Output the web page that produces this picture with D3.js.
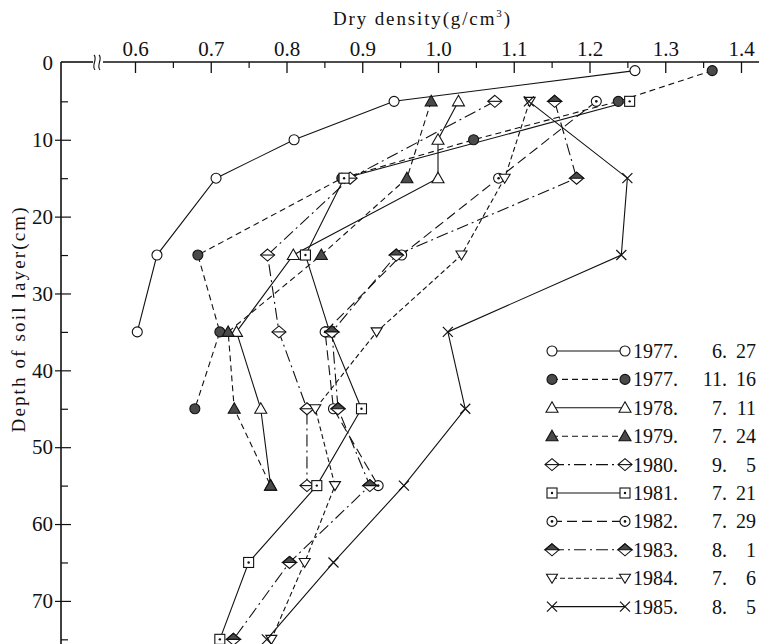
<!DOCTYPE html>
<html>
<head>
<meta charset="utf-8">
<script src="https://cdn.jsdelivr.net/npm/d3@7"></script>
<style>
  html, body { margin: 0; padding: 0; background: #fff; }
  svg { display: block; }
  svg text { font-family: "Liberation Serif", "Times New Roman", serif !important; fill: #111; }
</style>
</head>
<body>
<svg id="chart" width="759" height="644"></svg>
<script>
// ---------------- DATA ----------------
const xMajorTicks = [0.6, 0.7, 0.8, 0.9, 1.0, 1.1, 1.2, 1.3, 1.4];
const xMinorTicks = [0.65, 0.75, 0.85, 0.95, 1.05, 1.15, 1.25, 1.35];
const yMajorTicks = [0, 10, 20, 30, 40, 50, 60, 70];
const yMinorTicks = [5, 15, 25, 35, 45, 55, 65, 75];

const legendYear  = ["1977.", "1977.", "1978.", "1979.", "1980.", "1981.", "1982.", "1983.", "1984.", "1985."];
const legendMonth = ["6.", "11.", "7.", "7.", "9.", "7.", "7.", "8.", "7.", "8."];
const legendDay   = ["27", "16", "11", "24", "5", "21", "29", "1", "6", "5"];

const depth_1977_06_27 = [1, 5, 10, 15, 25, 35];
const dens_1977_06_27  = [1.26, 0.942, 0.81, 0.707, 0.629, 0.603];
const depth_1977_11_16 = [1, 5, 10, 15, 25, 35, 45];
const dens_1977_11_16  = [1.362, 1.238, 1.047, 0.873, 0.683, 0.712, 0.679];
const depth_1978_07_11 = [5, 10, 15, 25, 35, 45, 55];
const dens_1978_07_11  = [1.027, 1.0, 1.0, 0.809, 0.734, 0.766, 0.779];
const depth_1979_07_24 = [5, 15, 25, 35, 45, 55];
const dens_1979_07_24  = [0.991, 0.959, 0.846, 0.723, 0.731, 0.779];
const depth_1980_09_05 = [5, 15, 25, 35, 45, 55];
const dens_1980_09_05  = [1.075, 0.884, 0.775, 0.79, 0.827, 0.827];
const depth_1981_07_21 = [5, 15, 25, 35, 45, 55, 65, 75];
const dens_1981_07_21  = [1.253, 0.876, 0.825, 0.857, 0.899, 0.84, 0.75, 0.712];
const depth_1982_07_29 = [5, 15, 25, 35, 45, 55];
const dens_1982_07_29  = [1.209, 1.08, 0.952, 0.851, 0.862, 0.921];
const depth_1983_08_01 = [5, 15, 25, 35, 45, 55, 65, 75];
const dens_1983_08_01  = [1.154, 1.183, 0.945, 0.86, 0.868, 0.91, 0.804, 0.73];
const depth_1984_07_06 = [5, 15, 25, 35, 45, 55, 65, 75];
const dens_1984_07_06  = [1.121, 1.088, 1.031, 0.919, 0.838, 0.864, 0.824, 0.78];
const depth_1985_08_05 = [5, 15, 25, 35, 45, 55, 65, 75];
const dens_1985_08_05  = [1.12, 1.25, 1.242, 1.013, 1.036, 0.955, 0.862, 0.774];

// ---------------- SETUP ----------------
const series = [
  {depth: depth_1977_06_27, dens: dens_1977_06_27, marker: "circle",     dash: null},
  {depth: depth_1977_11_16, dens: dens_1977_11_16, marker: "fcircle",    dash: "6,4"},
  {depth: depth_1978_07_11, dens: dens_1978_07_11, marker: "triangle",   dash: null},
  {depth: depth_1979_07_24, dens: dens_1979_07_24, marker: "ftriangle",  dash: "6,4"},
  {depth: depth_1980_09_05, dens: dens_1980_09_05, marker: "diamond",    dash: "12,4,2,4"},
  {depth: depth_1981_07_21, dens: dens_1981_07_21, marker: "dsquare",    dash: null},
  {depth: depth_1982_07_29, dens: dens_1982_07_29, marker: "dcircle",    dash: "10,5"},
  {depth: depth_1983_08_01, dens: dens_1983_08_01, marker: "hdiamond",   dash: "12,4,2,4"},
  {depth: depth_1984_07_06, dens: dens_1984_07_06, marker: "dtriangle",  dash: "5,3"},
  {depth: depth_1985_08_05, dens: dens_1985_08_05, marker: "cross",      dash: null}
];

const FONT = "'Liberation Serif', 'Times New Roman', serif";
const svg = d3.select("#chart");
svg.append("rect").attr("width", 759).attr("height", 644).attr("fill", "#fff");

const x = d3.scaleLinear().domain([0.6, 1.4]).range([135, 741]);
const y = d3.scaleLinear().domain([0, 70]).range([62.9, 600.9]);
const axisX0 = 61, axisY0 = 62;
const FILL = "#4a4a4a";

// ---------------- AXES ----------------
const gx = svg.append("g").attr("transform", `translate(0,${axisY0})`);
gx.call(d3.axisTop(x).tickValues(xMajorTicks).tickSize(-11).tickPadding(6)
        .tickFormat(d3.format(".1f")));
gx.attr("font-family", FONT);
gx.select(".domain").remove();
gx.selectAll(".tick line").attr("stroke", "#111").attr("stroke-width", 1.3);
gx.selectAll(".tick text").attr("font-size", 21).style("font-family", FONT).attr("fill", "#111");

const gxm = svg.append("g").attr("transform", `translate(0,${axisY0})`);
gxm.call(d3.axisTop(x).tickValues(xMinorTicks).tickSize(-6).tickFormat(""));
gxm.select(".domain").remove();
gxm.selectAll(".tick line").attr("stroke", "#111").attr("stroke-width", 1.2);

// top axis line with break
svg.append("line").attr("x1", axisX0).attr("x2", 93).attr("y1", axisY0).attr("y2", axisY0)
  .attr("stroke", "#111").attr("stroke-width", 1.6);
svg.append("line").attr("x1", 103).attr("x2", 759).attr("y1", axisY0).attr("y2", axisY0)
  .attr("stroke", "#111").attr("stroke-width", 1.6);
[94, 99].forEach(bx => {
  svg.append("path")
    .attr("d", `M${bx},${axisY0 - 7} C${bx + 4},${axisY0 - 3} ${bx - 3},${axisY0 + 3} ${bx + 1},${axisY0 + 8}`)
    .attr("fill", "none").attr("stroke", "#111").attr("stroke-width", 1.1);
});

// left axis
const gy = svg.append("g").attr("transform", `translate(${axisX0},0)`);
gy.call(d3.axisLeft(y).tickValues(yMajorTicks).tickSize(-10).tickPadding(8));
gy.attr("font-family", FONT);
gy.select(".domain").remove();
gy.selectAll(".tick line").attr("x1", -6).attr("stroke", "#111").attr("stroke-width", 1.2)
  .filter(d => d === 0).remove();
gy.selectAll(".tick text").attr("font-size", 21).style("font-family", FONT).attr("fill", "#111");

const gym = svg.append("g").attr("transform", `translate(${axisX0},0)`);
gym.call(d3.axisLeft(y).tickValues(yMinorTicks).tickSize(-7).tickFormat(""));
gym.select(".domain").remove();
gym.selectAll(".tick line").attr("stroke", "#111").attr("stroke-width", 1.2);

svg.append("line").attr("x1", axisX0).attr("x2", axisX0).attr("y1", axisY0).attr("y2", 644)
  .attr("stroke", "#111").attr("stroke-width", 1.6);

// axis titles
const xt = svg.append("text").attr("x", 333).attr("y", 25).attr("font-size", 19)
  .style("font-family", FONT)
  .attr("textLength", 177).attr("lengthAdjust", "spacing");
xt.append("tspan").text("Dry density(g/cm");
xt.append("tspan").attr("font-size", 11).attr("dy", -8).text("3");
xt.append("tspan").attr("dy", 8).text(")");

svg.append("text").attr("transform", "translate(25,320) rotate(-90)")
  .attr("text-anchor", "middle").attr("font-size", 19)
  .style("font-family", FONT)
  .attr("textLength", 225).attr("lengthAdjust", "spacing")
  .text("Depth of soil layer(cm)");

// ---------------- MARKERS ----------------
function drawMarker(g, type, cx, cy) {
  const s = "#111", sw = 1.1;
  const r = 5;
  if (type === "circle" || type === "fcircle" || type === "dcircle") {
    g.append("circle").attr("cx", cx).attr("cy", cy).attr("r", r)
      .attr("fill", type === "fcircle" ? FILL : "#fff").attr("stroke", s).attr("stroke-width", sw);
    if (type === "dcircle")
      g.append("circle").attr("cx", cx).attr("cy", cy).attr("r", 1.3).attr("fill", s);
  } else if (type === "triangle" || type === "ftriangle") {
    g.append("path").attr("d", `M${cx},${cy - 6} L${cx + 6},${cy + 4.5} L${cx - 6},${cy + 4.5} Z`)
      .attr("fill", type === "ftriangle" ? FILL : "#fff").attr("stroke", s).attr("stroke-width", sw);
  } else if (type === "dtriangle") {
    g.append("path").attr("d", `M${cx - 5.5},${cy - 4} L${cx + 5.5},${cy - 4} L${cx},${cy + 5} Z`)
      .attr("fill", "#fff").attr("stroke", s).attr("stroke-width", sw);
  } else if (type === "diamond" || type === "hdiamond") {
    g.append("path").attr("d", `M${cx},${cy - 6} L${cx + 7},${cy} L${cx},${cy + 6} L${cx - 7},${cy} Z`)
      .attr("fill", "#fff").attr("stroke", s).attr("stroke-width", sw);
    if (type === "hdiamond")
      g.append("path").attr("d", `M${cx},${cy - 6} L${cx + 7},${cy} L${cx - 7},${cy} Z`)
        .attr("fill", FILL).attr("stroke", s).attr("stroke-width", sw);
    else
      g.append("line").attr("x1", cx - 7).attr("x2", cx + 7).attr("y1", cy).attr("y2", cy)
        .attr("stroke", s).attr("stroke-width", sw);
  } else if (type === "dsquare") {
    g.append("rect").attr("x", cx - 5).attr("y", cy - 5).attr("width", 10).attr("height", 10)
      .attr("fill", "#fff").attr("stroke", s).attr("stroke-width", sw);
    g.append("circle").attr("cx", cx).attr("cy", cy).attr("r", 1.2).attr("fill", s);
  } else if (type === "cross") {
    g.append("path").attr("d", `M${cx - 5},${cy - 5} L${cx + 5},${cy + 5} M${cx + 5},${cy - 5} L${cx - 5},${cy + 5}`)
      .attr("stroke", s).attr("stroke-width", 1.2).attr("fill", "none");
  }
}

// ---------------- SERIES ----------------
const line = d3.line().x(d => x(d[0])).y(d => y(d[1]));
const gLines = svg.append("g");
const gMarks = svg.append("g");
series.forEach(sr => {
  const pts = sr.dens.map((v, i) => [v, sr.depth[i]]);
  gLines.append("path").attr("d", line(pts)).attr("fill", "none")
    .attr("stroke", "#111").attr("stroke-width", 1.1)
    .attr("stroke-dasharray", sr.dash);
  pts.forEach(p => drawMarker(gMarks, sr.marker, x(p[0]), y(p[1])));
});

// ---------------- LEGEND ----------------
const legTop = 351, legStep = 28.4;
const legX1 = 552, legX2 = 625;
series.forEach((sr, i) => {
  const ly = legTop + i * legStep;
  svg.append("line").attr("x1", legX1).attr("x2", legX2).attr("y1", ly).attr("y2", ly)
    .attr("stroke", "#111").attr("stroke-width", 1.1).attr("stroke-dasharray", sr.dash);
  drawMarker(svg, sr.marker, legX1, ly);
  drawMarker(svg, sr.marker, legX2, ly);
  svg.append("text").attr("x", 633).attr("y", ly + 7).attr("font-size", 20)
    .style("font-family", FONT).text(legendYear[i]);
  svg.append("text").attr("x", 727).attr("y", ly + 7).attr("font-size", 20)
    .style("font-family", FONT).attr("text-anchor", "end").text(legendMonth[i]);
  svg.append("text").attr("x", 756).attr("y", ly + 7).attr("font-size", 20)
    .style("font-family", FONT).attr("text-anchor", "end").text(legendDay[i]);
});
</script>
</body>
</html>
